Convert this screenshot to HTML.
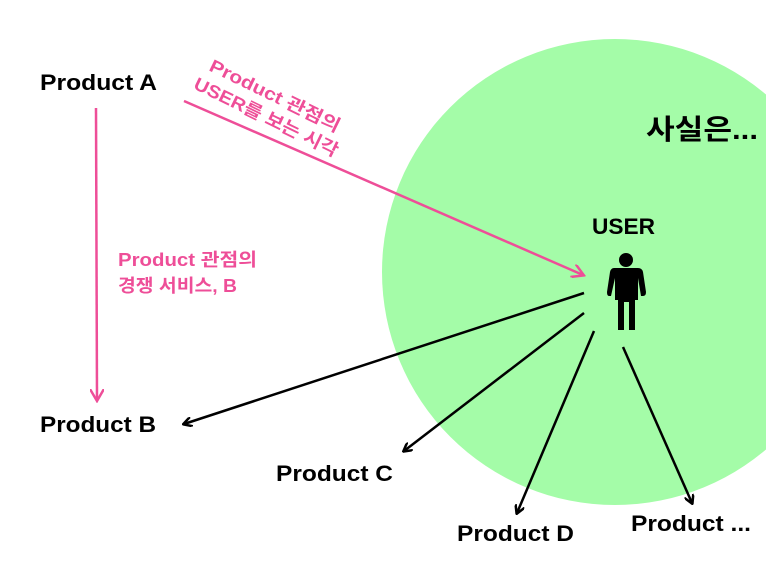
<!DOCTYPE html>
<html><head><meta charset="utf-8"><style>
html,body{margin:0;padding:0;background:#fff;}
svg{display:block;}
text{font-family:"Liberation Sans","Noto Sans CJK KR",sans-serif;font-weight:bold;}
</style></head><body>
<svg width="766" height="563" viewBox="0 0 766 563" xmlns="http://www.w3.org/2000/svg">
<defs>
<marker id="ab" markerWidth="10" markerHeight="10" refX="8" refY="5" orient="auto" markerUnits="userSpaceOnUse">
<path d="M0,0 L9,5 L0,10" fill="none" stroke="#000" stroke-width="2.5"/></marker>
<marker id="ap" markerWidth="14" markerHeight="14" refX="11" refY="7" orient="auto" markerUnits="userSpaceOnUse">
<path d="M0,0 L12,7 L0,14" fill="none" stroke="#ee4e98" stroke-width="2.5"/></marker>
</defs>
<circle cx="615" cy="272" r="233" fill="#a4fca8"/>
<text x="40" y="90" font-size="22" textLength="117" lengthAdjust="spacingAndGlyphs" fill="#000">Product A</text>
<text x="40" y="432" font-size="22" textLength="116" lengthAdjust="spacingAndGlyphs" fill="#000">Product B</text>
<text x="276" y="481" font-size="22" textLength="117" lengthAdjust="spacingAndGlyphs" fill="#000">Product C</text>
<text x="457" y="541" font-size="22" textLength="117" lengthAdjust="spacingAndGlyphs" fill="#000">Product D</text>
<text x="631" y="531" font-size="22" textLength="120" lengthAdjust="spacingAndGlyphs" fill="#000">Product ...</text>
<text x="592" y="234" font-size="22" textLength="63" lengthAdjust="spacingAndGlyphs" fill="#000">USER</text>
<text x="646" y="139" font-size="28" textLength="112" lengthAdjust="spacingAndGlyphs" fill="#000">사실은...</text>
<text x="118" y="266" font-size="18" textLength="139" lengthAdjust="spacingAndGlyphs" fill="#ee4e98">Product 관점의</text>
<text x="118" y="292" font-size="18" textLength="119" lengthAdjust="spacingAndGlyphs" fill="#ee4e98">경쟁 서비스, B</text>
<g transform="translate(208,70) rotate(26)">
<text x="0" y="0" font-size="18" textLength="143" lengthAdjust="spacingAndGlyphs" fill="#ee4e98">Product 관점의</text>
<text x="-6" y="23" font-size="18" textLength="158" lengthAdjust="spacingAndGlyphs" fill="#ee4e98">USER를 보는 시각</text>
</g>
<line x1="96" y1="108" x2="97" y2="400" stroke="#ee4e98" stroke-width="2.5" marker-end="url(#ap)"/>
<line x1="184" y1="101" x2="583" y2="275" stroke="#ee4e98" stroke-width="2.5" marker-end="url(#ap)"/>
<line x1="584" y1="293" x2="184" y2="424" stroke="#000" stroke-width="2.5" marker-end="url(#ab)"/>
<line x1="584" y1="313" x2="404" y2="451" stroke="#000" stroke-width="2.5" marker-end="url(#ab)"/>
<line x1="594" y1="331" x2="517" y2="513" stroke="#000" stroke-width="2.5" marker-end="url(#ab)"/>
<line x1="623" y1="347" x2="692" y2="503" stroke="#000" stroke-width="2.5" marker-end="url(#ab)"/>
<g fill="#000">
<circle cx="626" cy="260" r="7"/>
<path d="M614,268 L638,268 Q642,268 643,272 L646,292 Q646,296 643,296 L641,296 L638,278 L638,300 L635,300 L635,330 L629,330 L629,302 L624,302 L624,330 L618,330 L618,300 L615,300 L615,278 L611,296 L609,296 Q607,296 607,292 L610,272 Q611,268 614,268 Z"/>
</g>
</svg>
</body></html>
